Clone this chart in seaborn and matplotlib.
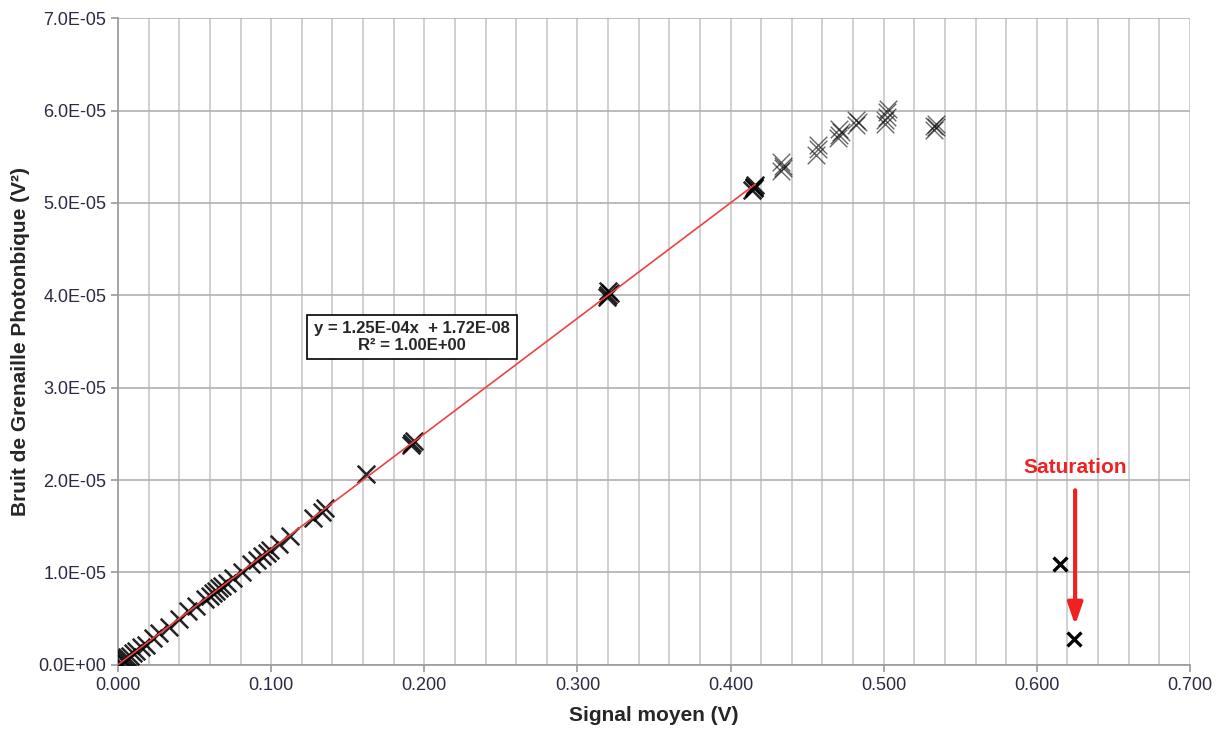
import numpy as np
import pandas as pd
import matplotlib
matplotlib.use("Agg")
import matplotlib.pyplot as plt
from matplotlib.ticker import MultipleLocator, FuncFormatter
import seaborn as sns

# mesures (signal moyen en V, bruit en 1E-05 V²)
signal_lin = [0.001, 0.002, 0.003, 0.004, 0.005, 0.006, 0.008, 0.010, 0.012, 0.015,
              0.018, 0.023, 0.027, 0.033, 0.040, 0.046, 0.051, 0.057, 0.060, 0.062,
              0.064, 0.066, 0.068, 0.071, 0.075, 0.081, 0.087, 0.091, 0.094, 0.097,
              0.099, 0.105, 0.112, 0.127, 0.133, 0.135, 0.162, 0.191, 0.192, 0.193,
              0.319, 0.320, 0.321, 0.320, 0.414, 0.415, 0.416, 0.415]
bruit_lin = [0.01, 0.025, 0.04, 0.05, 0.06, 0.08, 0.10, 0.13, 0.15, 0.19,
             0.22, 0.29, 0.34, 0.41, 0.50, 0.58, 0.64, 0.71, 0.75, 0.78,
             0.80, 0.83, 0.85, 0.89, 0.94, 1.01, 1.09, 1.14, 1.18, 1.21,
             1.24, 1.31, 1.40, 1.59, 1.66, 1.70, 2.07, 2.38, 2.40, 2.42,
             3.98, 4.00, 4.03, 4.05, 5.14, 5.17, 5.19, 5.16]
signal_haut = [0.433, 0.434, 0.433, 0.434, 0.456, 0.457, 0.457, 0.470, 0.471, 0.471,
               0.472, 0.482, 0.483, 0.482, 0.501, 0.502, 0.502, 0.503, 0.501,
               0.533, 0.534, 0.534, 0.533]
bruit_haut = [5.35, 5.40, 5.44, 5.38, 5.52, 5.58, 5.63, 5.70, 5.74, 5.80,
              5.77, 5.84, 5.88, 5.90, 5.85, 5.93, 5.98, 6.02, 5.90,
              5.79, 5.82, 5.85, 5.83]
signal_sat = [0.615, 0.624]
bruit_sat = [1.09, 0.28]

# courbe de tendance (Excel)
pente = 1.25e-4
ordonnee = 1.72e-8

df_lin = pd.DataFrame({"x": signal_lin, "y": np.array(bruit_lin) * 1e-5})
df_haut = pd.DataFrame({"x": signal_haut, "y": np.array(bruit_haut) * 1e-5})
df_sat = pd.DataFrame({"x": signal_sat, "y": np.array(bruit_sat) * 1e-5})

sns.set_style("white")
plt.rcParams["font.family"] = ["Liberation Sans", "DejaVu Sans"]

fig = plt.figure(figsize=(12.23, 7.29), dpi=100)
ax = fig.add_axes([0.0965, 0.088, 0.8765, 0.887])

xs = np.array([0.0, max(signal_lin)])
df_fit = pd.DataFrame({"x": xs, "y": pente * xs + ordonnee})

sns.scatterplot(data=df_lin, x="x", y="y", marker="x", s=160, color="black",
                linewidth=1.8, alpha=0.85, ax=ax, zorder=3)
sns.scatterplot(data=df_haut, x="x", y="y", marker="x", s=160, color="black",
                linewidth=1.0, alpha=0.6, ax=ax, zorder=3)
sns.scatterplot(data=df_sat, x="x", y="y", marker="x", s=100, color="black",
                linewidth=2.4, ax=ax, zorder=3)
sns.lineplot(data=df_fit, x="x", y="y", color="#f04040", linewidth=1.2, ax=ax, zorder=4)

ax.set_xlim(0, 0.7)
ax.set_ylim(0, 7e-5)
ax.xaxis.set_major_locator(MultipleLocator(0.1))
ax.xaxis.set_minor_locator(MultipleLocator(0.02))
ax.yaxis.set_major_locator(MultipleLocator(1e-5))
ax.xaxis.set_major_formatter(FuncFormatter(lambda v, p: f"{v:.3f}"))
ax.yaxis.set_major_formatter(FuncFormatter(lambda v, p: f"{v:.1E}"))
ax.grid(True, which="both", axis="x", color="#c8c8c8", linewidth=1.2)
ax.grid(True, which="major", axis="y", color="#b0b0b0", linewidth=1.2)
ax.set_axisbelow(True)
for side in ["top", "right"]:
    ax.spines[side].set_visible(False)
for side in ["left", "bottom"]:
    ax.spines[side].set_color("#999999")
    ax.spines[side].set_linewidth(1.2)
ax.tick_params(which="major", length=5, color="#999999", width=1.2,
               labelsize=13, labelcolor="#2a2a44", direction="out",
               bottom=True, left=True)
ax.tick_params(which="minor", length=0)

ax.set_xlabel("Signal moyen (V)", fontsize=15, fontweight="bold", labelpad=9)
ax.set_ylabel("Bruit de Grenaille Photonbique (V²)", fontsize=15, fontweight="bold", labelpad=6)

ax.text(0.192, 3.55e-5, "y = 1.25E-04x  + 1.72E-08\nR² = 1.00E+00", ha="center", va="center",
        fontsize=12, fontweight="bold", linespacing=1.1,
        bbox=dict(boxstyle="square,pad=0.4", facecolor="white", edgecolor="black", linewidth=1.2),
        zorder=5)

ax.text(0.625, 2.14e-5, "Saturation", color="#ee2222", ha="center", va="center",
        fontsize=15, fontweight="bold")
ax.annotate("", xy=(0.625, 0.4e-5), xytext=(0.625, 1.92e-5),
            arrowprops=dict(arrowstyle="-|>,head_width=0.45,head_length=1.3",
                            color="#ee2222", linewidth=3))

fig.savefig("out.png", dpi=100)
